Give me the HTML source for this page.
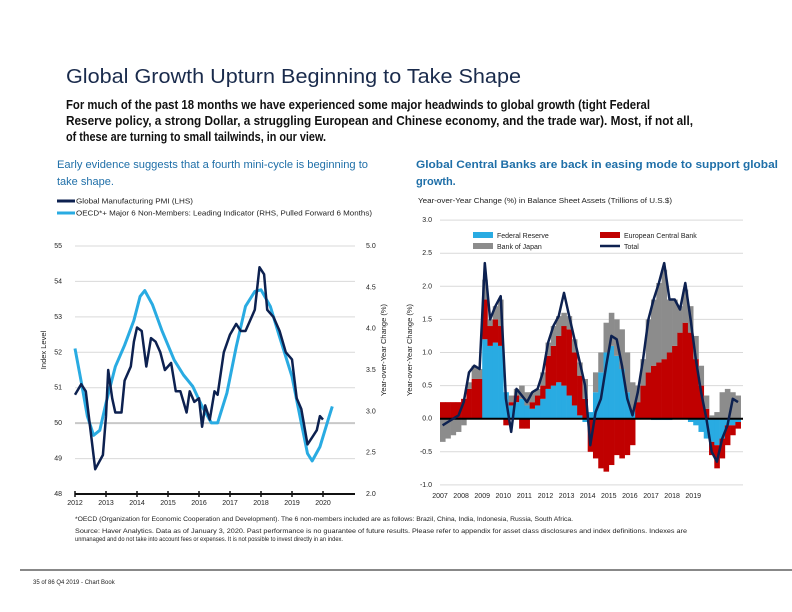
<!DOCTYPE html>
<html><head><meta charset="utf-8"><style>
html,body{margin:0;padding:0;background:#fff;}
svg{display:block;font-family:"Liberation Sans Narrow","Liberation Sans",sans-serif;}
</style></head><body>
<svg id="page" width="792" height="612" viewBox="0 0 792 612">
<text x="66" y="83" font-size="20" fill="#1a2b4c" textLength="455" lengthAdjust="spacingAndGlyphs">Global Growth Upturn Beginning to Take Shape</text>
<g font-size="12.5" font-weight="bold" fill="#111">
<text x="66" y="109" textLength="584" lengthAdjust="spacingAndGlyphs">For much of the past 18 months we have experienced some major headwinds to global growth (tight Federal</text>
<text x="66" y="125" textLength="627" lengthAdjust="spacingAndGlyphs">Reserve policy, a strong Dollar, a struggling European and Chinese economy, and the trade war). Most, if not all,</text>
<text x="66" y="141" textLength="260" lengthAdjust="spacingAndGlyphs">of these are turning to small tailwinds, in our view.</text>
</g>
<g font-size="11" fill="#1f6fa8">
<text x="57" y="168" textLength="311" lengthAdjust="spacingAndGlyphs">Early evidence suggests that a fourth mini-cycle is beginning to</text>
<text x="57" y="185">take shape.</text>
</g>
<g font-size="11" fill="#1f6fa8" font-weight="bold">
<text x="416" y="168" textLength="362" lengthAdjust="spacingAndGlyphs">Global Central Banks are back in easing mode to support global</text>
<text x="416" y="185">growth.</text>
</g>
<g id="left"></g>
<g id="right"></g>
<g font-size="6" fill="#222">
<text x="75" y="521" textLength="498" lengthAdjust="spacingAndGlyphs">*OECD (Organization for Economic Cooperation and Development). The 6 non-members included are as follows: Brazil, China, India, Indonesia, Russia, South Africa.</text>
<text x="75" y="533" textLength="612" lengthAdjust="spacingAndGlyphs">Source: Haver Analytics. Data as of January 3, 2020. Past performance is no guarantee of future results. Please refer to appendix for asset class disclosures and index definitions. Indexes are</text>
<text x="75" y="541" textLength="268" lengthAdjust="spacingAndGlyphs">unmanaged and do not take into account fees or expenses. It is not possible to invest directly in an index.</text>
</g>
<line x1="20" y1="570" x2="792" y2="570" stroke="#111" stroke-width="1"/>
<text x="33" y="584" font-size="6" fill="#222">35 of 86 Q4 2019 - Chart Book</text>
</svg>
<script>
const NS="http://www.w3.org/2000/svg";
// ---- Left chart data ----
const pmiYears=[2012.0,2012.2,2012.35,2012.5,2012.65,2012.9,2013.0,2013.07,2013.2,2013.3,2013.5,2013.6,2013.8,2013.9,2014.0,2014.15,2014.3,2014.45,2014.6,2014.75,2014.9,2015.1,2015.25,2015.4,2015.6,2015.7,2015.85,2016.0,2016.1,2016.2,2016.35,2016.5,2016.6,2016.8,2017.0,2017.2,2017.35,2017.5,2017.7,2017.8,2017.95,2018.1,2018.2,2018.4,2018.6,2018.8,2019.0,2019.15,2019.3,2019.5,2019.65,2019.8,2019.9,2020.0];
const pmiValues=[50.8,51.1,50.9,49.8,48.7,49.1,50.2,51.5,50.7,50.3,50.3,51.2,51.6,52.3,52.7,52.6,51.6,52.4,52.3,52.0,51.5,51.7,50.9,50.9,50.3,50.9,50.6,50.7,49.9,50.5,50.1,50.9,50.8,52.0,52.5,52.8,52.6,52.6,53.0,53.2,54.4,54.2,53.2,53.0,52.6,52.0,51.8,50.7,50.4,49.4,49.6,49.8,50.2,50.1];
const oecdYears=[2012.0,2012.2,2012.4,2012.6,2012.8,2013.0,2013.3,2013.6,2013.9,2014.1,2014.25,2014.5,2014.8,2015.2,2015.5,2015.8,2016.1,2016.4,2016.6,2016.9,2017.2,2017.5,2017.8,2018.0,2018.3,2018.6,2019.0,2019.3,2019.5,2019.65,2019.9,2020.2,2020.3];
const oecdValues=[3.76,3.36,2.94,2.71,2.77,3.1,3.54,3.8,4.1,4.39,4.46,4.29,3.98,3.62,3.44,3.30,3.06,2.86,2.86,3.22,3.78,4.27,4.45,4.47,4.27,3.9,3.42,2.86,2.49,2.40,2.57,2.94,3.06];
const leftTicks=[48,49,50,51,52,53,54,55];
const rightTicks=["2.0","2.5","3.0","3.5","4.0","4.5","5.0"];
const xYears=[2012,2013,2014,2015,2016,2017,2018,2019,2020];
// ---- Right chart data ----
const cbYears=[2007.0,2007.25,2007.5,2007.75,2008.0,2008.25,2008.5,2008.75,2009.0,2009.25,2009.5,2009.75,2010.0,2010.25,2010.5,2010.75,2011.0,2011.25,2011.5,2011.75,2012.0,2012.25,2012.5,2012.75,2013.0,2013.25,2013.5,2013.75,2014.0,2014.25,2014.5,2014.75,2015.0,2015.25,2015.5,2015.75,2016.0,2016.25,2016.5,2016.75,2017.0,2017.25,2017.5,2017.75,2018.0,2018.25,2018.5,2018.75,2019.0,2019.25,2019.5,2019.75,2020.0,2020.25,2020.5,2020.75,2021.0];
const fedValues=[0,0,0,0,0,0,0,0,1.2,1.1,1.15,1.1,0.4,0.2,0.25,0.3,0.2,0.15,0.2,0.3,0.45,0.5,0.55,0.5,0.35,0.2,0.05,-0.05,0.1,0.4,0.7,1.0,1.1,0.95,0.75,0.4,0.1,0,0,0,-0.02,-0.02,-0.02,-0.02,0,0,0,-0.05,-0.1,-0.2,-0.3,-0.35,-0.4,-0.3,-0.1,-0.1,-0.05];
const ecbValues=[0.25,0.25,0.25,0.25,0.3,0.45,0.6,0.6,0.6,0.3,0.35,0.3,-0.1,0.05,0.1,-0.15,-0.15,0.1,0.15,0.2,0.5,0.6,0.7,0.9,1.0,0.8,0.6,0.3,-0.5,-0.6,-0.75,-0.8,-0.7,-0.55,-0.6,-0.55,-0.4,0.25,0.5,0.7,0.8,0.85,0.9,1.0,1.1,1.3,1.45,1.3,0.9,0.5,0.15,-0.2,-0.35,-0.3,-0.3,-0.15,-0.1];
const bojValues=[-0.35,-0.3,-0.25,-0.2,-0.1,0.1,0.2,0.15,0.3,0.1,0.2,0.4,0.0,0.1,0.1,0.2,0.2,0.15,0.1,0.2,0.2,0.3,0.3,0.2,0.2,0.2,0.2,0.3,0.0,0.3,0.3,0.45,0.5,0.55,0.6,0.6,0.45,0.25,0.4,0.8,1.0,1.2,1.35,0.8,0.7,0.4,0.5,0.4,0.35,0.3,0.2,0.05,0.1,0.4,0.45,0.4,0.35];
const totalValues=[-0.1,-0.05,0.0,0.05,0.25,0.7,0.8,0.75,2.35,1.5,1.7,1.85,0.3,-0.2,0.45,0.35,0.25,0.4,0.45,0.7,1.15,1.4,1.55,1.9,1.55,1.2,0.85,0.5,-0.4,0.1,0.3,0.8,1.25,1.2,0.8,0.3,0.05,0.4,0.9,1.5,1.8,2.05,2.35,1.8,1.8,1.65,2.05,1.5,0.9,0.4,0.0,-0.5,-0.65,-0.3,-0.1,0.3,0.25];
const cbTicks=["-1.0","-0.5","0.0","0.5","1.0","1.5","2.0","2.5","3.0"];
const cbXYears=[2007,2008,2009,2010,2011,2012,2013,2014,2015,2016,2017,2018,2019];

function mk(parent,tag,attrs,text){const e=document.createElementNS(NS,tag);for(const k in attrs)e.setAttribute(k,attrs[k]);if(text!==undefined)e.textContent=text;parent.appendChild(e);return e;}

// ---- Left chart ----
(function(){
const g=document.getElementById('left');
const x=y=>75+(y-2012)*31;
const yl=v=>494-(v-48)*(248/7);
const yr=v=>494-(v-2)*(248/3);
leftTicks.forEach(t=>{
 if(t>48){const l=mk(g,'line',{x1:75,x2:355,y1:yl(t),y2:yl(t),stroke:t===50?'#c8c8c8':'#d9d9d9','stroke-width':t===50?2:1});
 
 }
 const tx=mk(g,'text',{x:62,y:yl(t)+2,'font-size':7,fill:'#222','text-anchor':'end'},String(t));
 
 
});
rightTicks.forEach(t=>{
 const tx=mk(g,'text',{x:366,y:yr(parseFloat(t))+2,'font-size':7,fill:'#222'},t);
 
 
});
const ax=mk(g,'line',{x1:75,x2:355,y1:494,y2:494,stroke:'#111','stroke-width':2});


xYears.forEach(yv=>{
 const tk=mk(g,'line',{x1:x(yv),x2:x(yv),y1:491,y2:497,stroke:'#111','stroke-width':1.5});
 
 
 const tx=mk(g,'text',{x:x(yv),y:505,'font-size':7,fill:'#222','text-anchor':'middle'},String(yv));
 
 
});
let d=oecdYears.map((yv,i)=>(i?'L':'M')+x(yv).toFixed(1)+','+yr(oecdValues[i]).toFixed(1)).join('');
const p1=mk(g,'path',{d:d,fill:'none',stroke:'#29abe2','stroke-width':3,'stroke-linejoin':'round'});


d=pmiYears.map((yv,i)=>(i?'L':'M')+x(yv).toFixed(1)+','+yl(pmiValues[i]).toFixed(1)).join('');
const p2=mk(g,'path',{d:d,fill:'none',stroke:'#0d2150','stroke-width':2.5,'stroke-linejoin':'round'});


const t1=mk(g,'text',{transform:'translate(46,350) rotate(-90)','font-size':7.5,fill:'#222','text-anchor':'middle'},'Index Level');


const t2=mk(g,'text',{transform:'translate(386,350) rotate(-90)','font-size':7.5,fill:'#222','text-anchor':'middle'},'Year-over-Year Change (%)');


const l1=mk(g,'line',{x1:57,x2:75,y1:201,y2:201,stroke:'#0d2150','stroke-width':3});


const lt1=mk(g,'text',{x:76,y:203.5,'font-size':7,fill:'#222',textLength:117,lengthAdjust:'spacingAndGlyphs'},'Global Manufacturing PMI (LHS)');


const l2=mk(g,'line',{x1:57,x2:75,y1:213,y2:213,stroke:'#29abe2','stroke-width':3});


const lt2=mk(g,'text',{x:76,y:215.5,'font-size':7,fill:'#222',textLength:296,lengthAdjust:'spacingAndGlyphs'},'OECD*+ Major 6 Non-Members: Leading Indicator (RHS, Pulled Forward 6 Months)');


})();

// ---- Right chart ----
(function(){
const g=document.getElementById('right');
const x=yv=>440+(yv-2007)*21.1;
const y=v=>418.7-v*66.2;
cbTicks.forEach(t=>{
 const v=parseFloat(t);
 if(v!==0){const l=mk(g,'line',{x1:440,x2:743,y1:y(v),y2:y(v),stroke:'#d9d9d9','stroke-width':1});
 
 }
 const tx=mk(g,'text',{x:432,y:y(v)+2,'font-size':7,fill:'#222','text-anchor':'end'},t);
 
 
});
const series=[[fedValues,'#29abe2','fed-bar'],[ecbValues,'#c00000','ecb-bar'],[bojValues,'#8c8c8c','boj-bar']];
const w=21.1*0.25;
cbYears.forEach((yv,i)=>{
 let pos=0,neg=0;
 series.forEach(s=>{
  const v=s[0][i];
  let y0,y1;
  if(v>=0){y0=pos;y1=pos+v;pos=y1;}else{y0=neg;y1=neg+v;neg=y1;}
  const r=mk(g,'rect',{x:x(yv),y:Math.min(y(y0),y(y1)),width:w+0.3,height:Math.abs(y(y1)-y(y0)),fill:s[1]});
  
  
 });
});
const z=mk(g,'line',{x1:440,x2:743,y1:y(0),y2:y(0),stroke:'#000','stroke-width':2});


const d=cbYears.map((yv,i)=>(i?'L':'M')+(x(yv)+w/2).toFixed(1)+','+y(totalValues[i]).toFixed(1)).join('');
const p=mk(g,'path',{d:d,fill:'none',stroke:'#0d2150','stroke-width':2.5,'stroke-linejoin':'round'});


cbXYears.forEach(yv=>{
 const tx=mk(g,'text',{x:x(yv),y:498,'font-size':7,fill:'#222','text-anchor':'middle'},String(yv));
 
 
});
const at=mk(g,'text',{transform:'translate(412,350) rotate(-90)','font-size':7.5,fill:'#222','text-anchor':'middle'},'Year-over-Year Change (%)');


const ct=mk(g,'text',{x:418,y:203,'font-size':7,fill:'#222',textLength:254,lengthAdjust:'spacingAndGlyphs'},'Year-over-Year Change (%) in Balance Sheet Assets (Trillions of U.S.$)');


const legs=[[473,232,'#29abe2','Federal Reserve','legend-fed'],[473,243,'#8c8c8c','Bank of Japan','legend-boj'],[600,232,'#c00000','European Central Bank','legend-ecb']];
legs.forEach(L=>{
 const r=mk(g,'rect',{x:L[0],y:L[1],width:20,height:6,fill:L[2]});
 
 
 const t=mk(g,'text',{x:L[0]+24,y:L[1]+6,'font-size':7,fill:'#222'},L[3]);
 
 
});
const tl=mk(g,'line',{x1:600,x2:620,y1:246,y2:246,stroke:'#0d2150','stroke-width':2.5});


const tt=mk(g,'text',{x:624,y:249,'font-size':7,fill:'#222'},'Total');


})();
</script>
</body></html>
